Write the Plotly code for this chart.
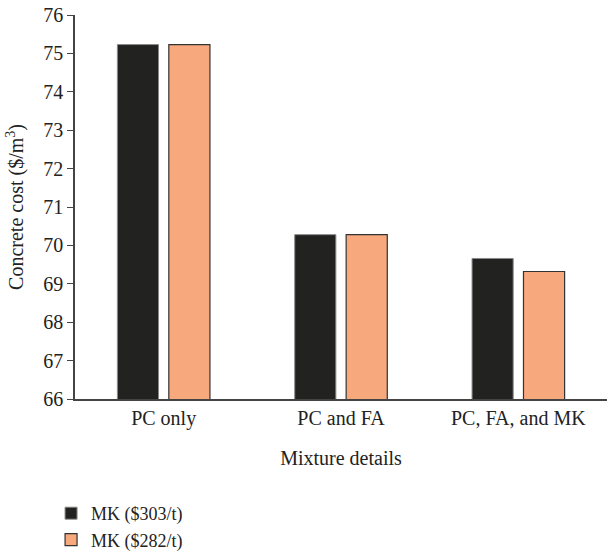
import plotly.graph_objects as go

categories = ["PC only", "PC and FA", "PC, FA, and MK"]
series_names = ["MK ($303/t)", "MK ($282/t)"]
mk303 = [75.23, 70.28, 69.66]
mk282 = [75.23, 70.28, 69.32]
y_ticks = list(range(66, 77))

fig = go.Figure()
fig.add_trace(go.Bar(x=categories, y=mk303, name=series_names[0],
                     marker=dict(color="#222220", line=dict(color="#8a8a8a", width=1))))
fig.add_trace(go.Bar(x=categories, y=mk282, name=series_names[1],
                     marker=dict(color="#F7A87D", line=dict(color="#333333", width=1.2))))

font_family = "Liberation Serif, Times New Roman, serif"
fig.update_layout(
    width=607, height=552,
    margin=dict(l=75, r=0, t=15, b=153, autoexpand=False),
    plot_bgcolor="white", paper_bgcolor="white",
    barmode="group", bargap=0.42, bargroupgap=0.2,
    font=dict(family=font_family, size=20, color="#222222"),
    showlegend=True,
    legend=dict(orientation="v", x=-0.045, y=-0.25, xanchor="left", yanchor="top",
                font=dict(size=18, family=font_family), tracegroupgap=0,
                itemwidth=30, bgcolor="rgba(0,0,0,0)"),
    xaxis=dict(showline=True, linecolor="#444444", linewidth=1.5, ticks="", automargin=False,
               title=dict(text="Mixture details", font=dict(size=20), standoff=22),
               tickfont=dict(size=20), showgrid=False, zeroline=False),
    yaxis=dict(range=[66, 76], tickvals=y_ticks, showline=True, linecolor="#444444", linewidth=1.5,
               ticks="outside", ticklen=6, tickcolor="#444444", showgrid=False, zeroline=False,
               tickfont=dict(size=20), automargin=False,
               title=dict(text="Concrete cost ($/m<sup>3</sup>)", font=dict(size=20), standoff=14)),
)
fig.write_html("out.html", config={"displayModeBar": False},
               post_script="document.body.style.margin='0';")
